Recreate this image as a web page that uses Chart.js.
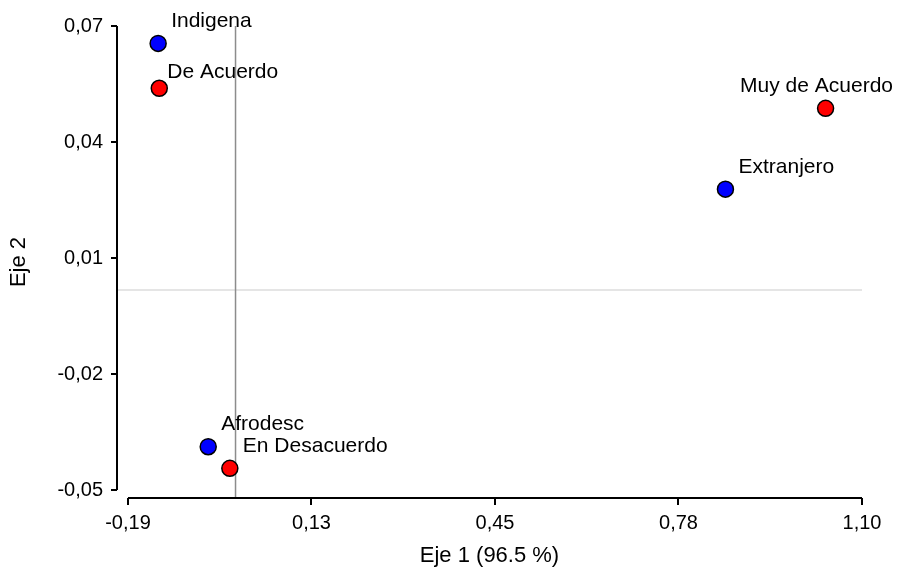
<!DOCTYPE html>
<html>
<head>
<meta charset="utf-8">
<script src="https://cdn.jsdelivr.net/npm/chart.js@4.4.1/dist/chart.umd.min.js"></script>
<style>
  body { margin: 0; background: #fff; }
  #wrap { width: 897px; height: 567px; }
</style>
</head>
<body>
<div id="wrap"><canvas id="mapa"></canvas></div>
<script>
// filas (grupo étnico) y columnas (nivel de acuerdo)
const rowNames = ['Indigena', 'Afrodesc', 'Extranjero'];
const rowX = [-0.137, -0.049, 0.860];
const rowY = [0.0655, -0.0388, 0.0278];

const colNames = ['Muy de Acuerdo', 'De Acuerdo', 'En Desacuerdo'];
const colX = [1.036, -0.135, -0.011];
const colY = [0.0487, 0.0539, -0.0444];

const xTicks = [-0.19, 0.1325, 0.455, 0.7775, 1.10];
const xTickLabels = ['-0,19', '0,13', '0,45', '0,78', '1,10'];
const yTicks = [-0.05, -0.02, 0.01, 0.04, 0.07];
const yTickLabels = ['-0,05', '-0,02', '0,01', '0,04', '0,07'];

// origen del plano factorial
const refX = -0.001;
const refY = 0.0017;

const FONT = "'Liberation Sans', Arial, sans-serif";

// ejes separados + lineas de referencia + etiquetas
const mapaPlugin = {
    id: 'mapa',
    beforeDatasetsDraw(chart) {
        const { ctx, chartArea: a, scales: { x, y } } = chart;
        ctx.save();
        ctx.lineWidth = 1.5;
        ctx.strokeStyle = '#dcdcdc';
        ctx.beginPath();
        ctx.moveTo(a.left, y.getPixelForValue(refY));
        ctx.lineTo(a.right, y.getPixelForValue(refY));
        ctx.stroke();
        ctx.strokeStyle = '#8c8c8c';
        ctx.beginPath();
        ctx.moveTo(x.getPixelForValue(refX), a.top);
        ctx.lineTo(x.getPixelForValue(refX), a.bottom);
        ctx.stroke();
        ctx.restore();
    },
    afterDatasetsDraw(chart) {
        const { ctx } = chart;
        const nudge = { 'De Acuerdo': [8, -16] };
        ctx.save();
        ctx.font = '21px ' + FONT;
        ctx.fillStyle = '#000';
        ctx.textBaseline = 'middle';
        ctx.textAlign = 'left';
        chart.data.datasets.forEach((ds, i) => {
            chart.getDatasetMeta(i).data.forEach((pt, j) => {
                const name = ds.names[j];
                const [dx, dy] = nudge[name] || [13, -22];
                const w = ctx.measureText(name).width;
                const tx = Math.min(pt.x + dx, chart.width - 4 - w);
                ctx.fillText(name, tx, pt.y + dy);
            });
        });
        ctx.restore();
    },
    afterDraw(chart) {
        const { ctx, chartArea: a, scales: { x, y } } = chart;
        ctx.save();
        ctx.lineWidth = 2;
        ctx.strokeStyle = '#000';
        ctx.beginPath();
        ctx.moveTo(a.left, y.getPixelForValue(yTicks[0]));
        ctx.lineTo(a.left, y.getPixelForValue(yTicks[yTicks.length - 1]));
        ctx.moveTo(x.getPixelForValue(xTicks[0]), a.bottom);
        ctx.lineTo(x.getPixelForValue(xTicks[xTicks.length - 1]), a.bottom);
        ctx.stroke();
        ctx.restore();
    }
};

const ctx = document.getElementById('mapa').getContext('2d');
const chart = new Chart(ctx, {
    type: 'scatter',
    data: {
        datasets: [{
            label: 'Filas',
            names: rowNames,
            data: rowX.map((v, i) => ({ x: v, y: rowY[i] })),
            backgroundColor: '#0000ff',
            borderColor: '#000',
            borderWidth: 1.5,
            pointRadius: 8,
            pointHoverRadius: 8
        }, {
            label: 'Columnas',
            names: colNames,
            data: colX.map((v, i) => ({ x: v, y: colY[i] })),
            backgroundColor: '#ff0000',
            borderColor: '#000',
            borderWidth: 1.5,
            pointRadius: 8,
            pointHoverRadius: 8
        }]
    },
    options: {
        responsive: true,
        maintainAspectRatio: false,
        animation: false,
        layout: { padding: { top: 26, right: 35, left: 0, bottom: 0 } },
        plugins: {
            legend: { display: false },
            tooltip: { enabled: false }
        },
        scales: {
            x: {
                type: 'linear',
                min: -0.2093,
                max: 1.10,
                afterFit: s => { s.height = 69; },
                afterBuildTicks: s => { s.ticks = xTicks.map(v => ({ value: v })); },
                border: { display: false },
                grid: { drawOnChartArea: false, tickLength: 7, lineWidth: 2, color: '#000' },
                ticks: {
                    autoSkip: false,
                    maxRotation: 0,
                    padding: 6,
                    color: '#000',
                    font: { family: FONT, size: 20 },
                    callback: (v, i) => xTickLabels[i]
                },
                title: {
                    display: true,
                    text: 'Eje 1 (96.5 %)',
                    color: '#000',
                    font: { family: FONT, size: 22, lineHeight: 1.0 },
                    padding: { top: 0, bottom: 0 }
                }
            },
            y: {
                type: 'linear',
                min: -0.05207,
                max: 0.07,
                afterFit: s => { s.width = 117; },
                afterBuildTicks: s => { s.ticks = yTicks.map(v => ({ value: v })); },
                border: { display: false },
                grid: { drawOnChartArea: false, tickLength: 6, lineWidth: 2, color: '#000' },
                ticks: {
                    autoSkip: false,
                    padding: 8,
                    color: '#000',
                    font: { family: FONT, size: 20 },
                    callback: (v, i) => yTickLabels[i]
                },
                title: {
                    display: true,
                    text: 'Eje 2',
                    color: '#000',
                    font: { family: FONT, size: 22, lineHeight: 1.0 },
                    padding: { top: 8, bottom: 0 }
                }
            }
        }
    },
    plugins: [mapaPlugin]
});
</script>
</body>
</html>
